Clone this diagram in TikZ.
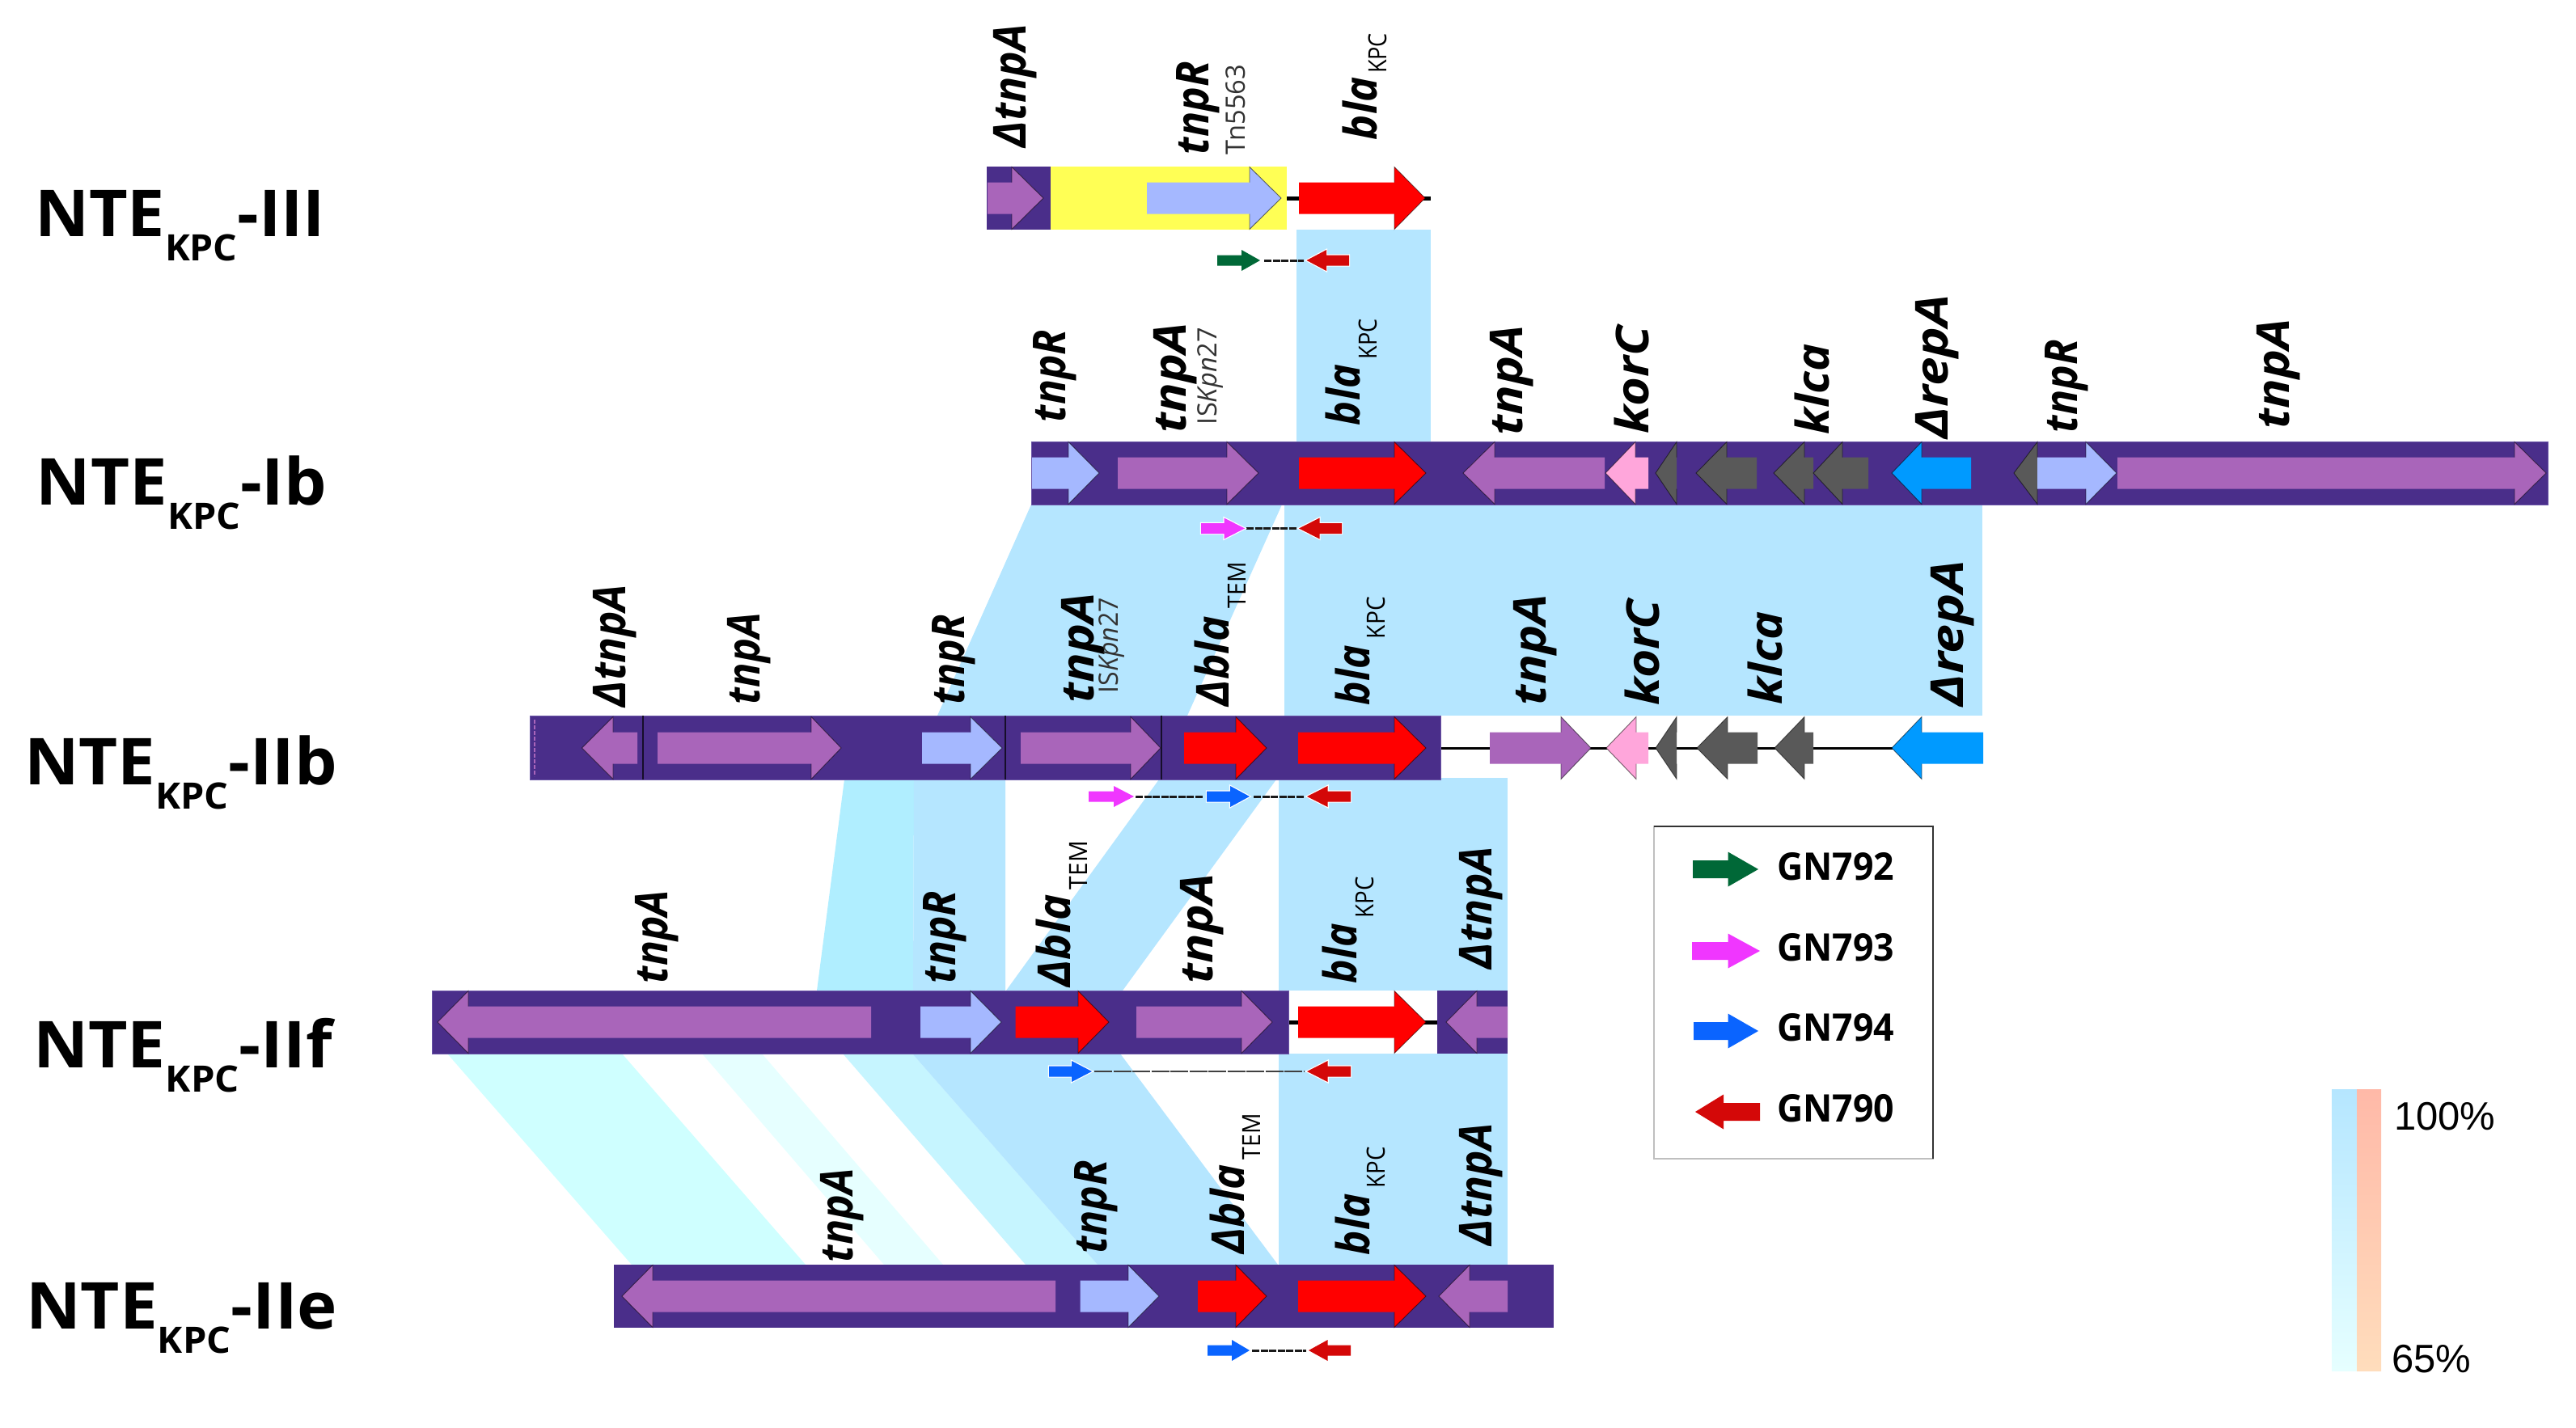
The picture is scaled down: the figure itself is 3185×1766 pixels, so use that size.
\documentclass[tikz,border=0pt]{standalone}
\usepackage{fontspec}
\usepackage{graphicx}
\setmainfont{Open Sans}
\setsansfont{Open Sans}
\newfontfamily\medfont{Open Sans}
\newfontfamily\legfont{Open Sans}
\newfontfamily\arialfont{Liberation Sans}
\definecolor{bb}{HTML}{4A2E8A}
\definecolor{bbedge}{HTML}{6A55A6}
\definecolor{tpa}{HTML}{A965BA}
\definecolor{tpr}{HTML}{A5B8FF}
\definecolor{kpc}{HTML}{FF0000}
\definecolor{kor}{HTML}{FFA6DB}
\definecolor{gry}{HTML}{595959}
\definecolor{rep}{HTML}{009AFF}
\definecolor{yel}{HTML}{FFFF55}
\definecolor{bandA}{HTML}{B5E6FF}
\definecolor{bandB}{HTML}{B0EEFF}
\definecolor{bandC}{HTML}{C6F5FF}
\definecolor{bandD}{HTML}{CFFFFF}
\definecolor{bandE}{HTML}{E6FFFF}
\definecolor{orgA}{HTML}{FFB9A8}
\definecolor{orgB}{HTML}{FFDDBC}
\definecolor{pgreen}{HTML}{006837}
\definecolor{pmag}{HTML}{F036FF}
\definecolor{pblue}{HTML}{0A64FF}
\definecolor{pred}{HTML}{D40808}
\newcounter{lab}
\tikzset{
  geneedge/.style={draw=black,draw opacity=0.55,line width=0.9pt,line join=miter},
  backbone/.style={fill=bb,draw=bbedge,line width=0.8pt},
  txtbase/.style={inner sep=0pt,outer sep=0pt,anchor=base west,text=black},
  vertlab/.style={txtbase,rotate=90},
  primerdash/.style={black!90,line width=3pt,dash pattern=on 9pt off 1.5pt},
  thindash/.style={black!75,line width=2pt,dash pattern=on 22pt off 1.5pt},
  linkline/.style={black,line width=5pt},
  thinline/.style={black,line width=3pt},
  divider/.style={black!70!bb,line width=1.2pt},
}
% x0, head base, tip, y, colour
\newcommand{\gene}[5]{%
  \fill[#5] (#1,#4-19.5)--(#2,#4-19.5)--(#2,#4-38.5)--(#3,#4)--(#2,#4+38.5)--(#2,#4+19.5)--(#1,#4+19.5)--cycle;
  \draw[geneedge] (#2,#4-19.5)--(#2,#4-38.5)--(#3,#4)--(#2,#4+38.5)--(#2,#4+19.5);}
\newcommand{\primer}[5]{%
  \draw[white,line width=2.4pt] (#1,#4-6.5)--(#2,#4-6.5)--(#2,#4-13)--(#3,#4)--(#2,#4+13)--(#2,#4+6.5)--(#1,#4+6.5)--cycle;
  \fill[#5] (#1,#4-6.5)--(#2,#4-6.5)--(#2,#4-13)--(#3,#4)--(#2,#4+13)--(#2,#4+6.5)--(#1,#4+6.5)--cycle;}
\newcommand{\legarrow}[5]{%
  \fill[#5] (#1,#4-11)--(#2,#4-11)--(#2,#4-21.5)--(#3,#4)--(#2,#4+21.5)--(#2,#4+11)--(#1,#4+11)--cycle;}
% baseline x, start y, end y, text
\newcommand{\genelab}[4]{%
  \stepcounter{lab}\pgfmathsetmacro\labw{#2-#3}%
  \node[vertlab] (lab\thelab) at (#1,#2) {\resizebox{\labw pt}{\height}{\fontsize{56}{60}\selectfont\bfseries\itshape #4}};}
\newcommand{\kpclab}[4]{%
  \stepcounter{lab}\pgfmathsetmacro\labw{#2-#3}%
  \node[vertlab] (lab\thelab) at (#1,#2) {\resizebox{\labw pt}{\height}{\fontsize{31}{34}\selectfont\medfont #4}};}
\newcommand{\sublab}[4]{%
  \stepcounter{lab}\pgfmathsetmacro\labw{#2-#3}%
  \node[vertlab,text=black!80] (lab\thelab) at (#1,#2) {\resizebox{\labw pt}{\height}{\fontsize{33}{36}\selectfont #4}};}
% x left, x right, baseline, suffix
\newcommand{\ntelab}[4]{%
  \stepcounter{lab}\pgfmathsetmacro\labw{#2-#1+9}%
  \node[txtbase] (lab\thelab) at (#1-5,#3) {\resizebox{\labw pt}{\height}{\fontsize{80}{84}\selectfont\bfseries NTE\raisebox{-30pt}{\fontsize{45}{48}\selectfont KPC}-#4}};}
\newcommand{\leglab}[3]{%
  \stepcounter{lab}%
  \node[txtbase] (lab\thelab) at (#1,#2) {\resizebox{145pt}{\height}{\fontsize{47}{50}\selectfont\legfont\bfseries #3}};}
\begin{document}
\begin{tikzpicture}[x=1pt,y=-1pt]
\useasboundingbox (0,0) rectangle (3185,1766);
\fill[white] (0,0) rectangle (3185,1766);

% ---- homology bands
\fill[bandA] (1603,284) rectangle (1769,546);
\fill[bandA] (1275,624)--(1585,624)--(1468,885)--(1159,885)--cycle;
\fill[bandA] (1588,624) rectangle (2451,885);
\fill[bandB] (1044,964)--(1130,964)--(1129,1225)--(1010,1225)--cycle;
\fill[bandA] (1130,964)--(1243,964)--(1243,1225)--(1129,1225)--cycle;
\fill[bandA] (1433,964)--(1578,964)--(1388,1225)--(1244,1225)--cycle;
\fill[bandA] (1581,962) rectangle (1864,1225);
\fill[bandD] (553,1303)--(769,1303)--(996,1564)--(781,1564)--cycle;
\fill[bandE] (868,1303)--(942,1303)--(1166,1564)--(1093,1564)--cycle;
\fill[bandC] (1042,1303)--(1128,1303)--(1357,1564)--(1268,1564)--cycle;
\fill[bandA] (1128,1303)--(1385,1303)--(1580,1564)--(1357,1564)--cycle;
\fill[bandA] (1581,1303) rectangle (1864,1564);

% ---- row III
\fill[bb] (1220,206) rectangle (1299,284);
\fill[yel] (1299,206) rectangle (1591,284);
\draw[linkline] (1591,245)--(1606,245);
\draw[linkline] (1760,245)--(1769,245);
\gene{1221}{1251}{1290}{245}{tpa}
\gene{1418}{1545}{1584}{245}{tpr}
\gene{1606}{1724}{1762}{245}{kpc}

% ---- row Ib
\filldraw[backbone] (1275,546) rectangle (3150,624);
\gene{1276}{1321}{1359}{585}{tpr}
\gene{1382}{1517}{1556}{585}{tpa}
\gene{1606}{1724}{1763}{585}{kpc}
\gene{1984}{1848}{1809}{585}{tpa}
\gene{2038}{2022}{1985}{585}{kor}
\gene{2073}{2073}{2047}{585}{gry}
\gene{2172}{2135}{2097}{585}{gry}
\gene{2242}{2231}{2193}{585}{gry}
\gene{2310}{2278}{2242}{585}{gry}
\gene{2437}{2376}{2339}{585}{rep}
\gene{2519}{2519}{2490}{585}{gry}
\gene{2519}{2579}{2617}{585}{tpr}
\gene{2618}{3109}{3148}{585}{tpa}

% ---- row IIb
\draw[thinline] (1781,925)--(2340,925);
\filldraw[backbone] (655,885) rectangle (1781,964);
\draw[tpa,line width=1.2pt,dash pattern=on 5pt off 2pt] (661,890)--(661,960);
\draw[divider] (795,885)--(795,964);
\draw[divider] (1243,885)--(1243,964);
\draw[divider] (1436,885)--(1436,964);
\gene{788}{758}{719.5}{925}{tpa}
\gene{813}{1003}{1040}{925}{tpa}
\gene{1140}{1200}{1239}{925}{tpr}
\gene{1262}{1398}{1435}{925}{tpa}
\gene{1464}{1528}{1566}{925}{kpc}
\gene{1605}{1724}{1763}{925}{kpc}
\gene{1842}{1930}{1967}{925}{tpa}
\gene{2038}{2023}{1986}{925}{kor}
\gene{2073}{2073}{2047}{925}{gry}
\gene{2173}{2136}{2098}{925}{gry}
\gene{2242}{2231}{2194}{925}{gry}
\gene{2452}{2376}{2339}{925}{rep}

% ---- row IIf
\draw[linkline] (1593,1264)--(1606,1264);
\draw[linkline] (1760,1264)--(1777,1264);
\filldraw[backbone] (534,1225) rectangle (1593,1303);
\fill[bb] (1777,1225) rectangle (1864,1303);
\gene{1077}{579}{541}{1264}{tpa}
\gene{1138}{1200}{1238}{1264}{tpr}
\gene{1255.5}{1333}{1371}{1264}{kpc}
\gene{1405}{1535}{1573}{1264}{tpa}
\gene{1605}{1724}{1763}{1264}{kpc}
\gene{1864}{1826}{1788}{1264}{tpa}

% ---- row IIe
\fill[bb] (759,1564) rectangle (1921,1642);
\gene{1305}{807}{769}{1603}{tpa}
\gene{1335.5}{1395}{1433}{1603}{tpr}
\gene{1481}{1528}{1566}{1603}{kpc}
\gene{1605}{1724}{1763}{1603}{kpc}
\gene{1864}{1817}{1779}{1603}{tpa}

% ---- primers
\coordinate (p3a) at (1563,322); \coordinate (p3b) at (1612,322);
\draw[primerdash] (p3a)--(p3b);
\primer{1505}{1535}{1558}{322}{pgreen}
\primer{1668}{1640}{1615.5}{322}{pred}
\coordinate (p1a) at (1541,653.5); \coordinate (p1b) at (1603,653.5);
\draw[primerdash] (p1a)--(p1b);
\primer{1485}{1513.5}{1539}{653.5}{pmag}
\primer{1659}{1631.5}{1606}{653.5}{pred}
\coordinate (p2a) at (1404,985); \coordinate (p2b) at (1487,985);
\coordinate (p2c) at (1550,985); \coordinate (p2d) at (1612,985);
\draw[primerdash] (p2a)--(p2b);
\draw[primerdash] (p2c)--(p2d);
\primer{1346}{1377}{1402}{985}{pmag}
\primer{1492}{1521}{1545}{985}{pblue}
\primer{1670}{1641.6}{1616}{985}{pred}
\coordinate (p4a) at (1353,1325); \coordinate (p4b) at (1612,1325);
\draw[thindash] (p4a)--(p4b);
\primer{1297}{1325}{1350}{1325}{pblue}
\primer{1670}{1641.6}{1616}{1325}{pred}
\coordinate (p5a) at (1548,1670); \coordinate (p5b) at (1615,1670);
\draw[primerdash] (p5a)--(p5b);
\primer{1493}{1523}{1545}{1670}{pblue}
\primer{1670}{1641.6}{1618}{1670}{pred}

% ---- gene labels row III
\genelab{1268}{182}{30}{ΔtnpA}
\genelab{1494}{191}{76}{tnpR}
\sublab{1539}{191}{80}{Tn5563}
\genelab{1702}{173}{95}{bla}
\kpclab{1714}{91}{41}{KPC}
% row Ib
\genelab{1317}{522}{408}{tnpR}
\genelab{1466}{535}{399}{tnpA}
\sublab{1504}{525}{405}{IS{\itshape Kpn}27}
\genelab{1681}{526}{451}{bla}
\kpclab{1702}{444}{394}{KPC}
\genelab{1882}{538}{402}{tnpA}
\genelab{2038}{536}{403}{korC}
\genelab{2261}{537}{425}{klca}
\genelab{2408}{542}{364}{ΔrepA}
\genelab{2568}{535}{420}{tnpR}
\genelab{2830}{530}{394}{tnpA}
% row IIb
\genelab{773}{874}{723}{ΔtnpA}
\genelab{939}{871}{758}{tnpA}
\genelab{1192}{871}{760}{tnpR}
\genelab{1352}{869}{733}{tnpA}
\sublab{1382}{857}{739}{IS{\itshape Kpn}27}
\genelab{1519}{873}{762}{Δbla}
\kpclab{1540}{752}{695}{TEM}
\genelab{1693}{872}{798}{bla}
\kpclab{1712}{790}{738}{KPC}
\genelab{1911}{872}{735}{tnpA}
\genelab{2051}{872}{741}{korC}
\genelab{2203}{871}{756}{klca}
\genelab{2427}{873}{693}{ΔrepA}
% row IIf
\genelab{825}{1216}{1101}{tnpA}
\genelab{1181}{1216}{1102}{tnpR}
\genelab{1323}{1220}{1106}{Δbla}
\kpclab{1344}{1100}{1040}{TEM}
\genelab{1499}{1216}{1081}{tnpA}
\genelab{1677}{1216}{1142}{bla}
\kpclab{1698}{1135}{1084}{KPC}
\genelab{1844}{1198}{1047}{ΔtnpA}
% row IIe
\genelab{1054}{1561}{1445}{tnpA}
\genelab{1368}{1550}{1435}{tnpR}
\genelab{1538}{1550}{1440}{Δbla}
\kpclab{1558}{1434}{1377}{TEM}
\genelab{1693}{1552}{1476}{bla}
\kpclab{1712}{1469}{1418}{KPC}
\genelab{1844}{1540}{1389}{ΔtnpA}

% ---- row names
\ntelab{48}{398}{292}{III}
\ntelab{50}{400}{624}{Ib}
\ntelab{35}{413}{970}{IIb}
\ntelab{46}{407}{1320}{IIf}
\ntelab{37}{413}{1643}{IIe}

% ---- legend
\draw[black!25,line width=1.4pt] (2045,1022) rectangle (2390,1433);
\draw[black!80,line width=1.4pt] (2045,1022)--(2390,1022)--(2390,1433);
\legarrow{2093}{2136.5}{2174}{1075}{pgreen}
\legarrow{2092}{2136.5}{2176}{1176}{pmag}
\legarrow{2094}{2136.5}{2174}{1275}{pblue}
\legarrow{2176}{2131}{2096}{1375}{pred}
\leglab{2197}{1088}{GN792}
\leglab{2197}{1188}{GN793}
\leglab{2197}{1287}{GN794}
\leglab{2197}{1387}{GN790}

% ---- identity scale
\shade[top color=bandA,bottom color=bandE] (2883,1347) rectangle (2914,1695);
\shade[top color=orgA,bottom color=orgB] (2914,1347) rectangle (2944,1695);
\node[txtbase,font=\arialfont\fontsize{49}{52}\selectfont] (scalehi) at (2960,1397) {100\%};
\node[txtbase,font=\arialfont\fontsize{49}{52}\selectfont] (scalelo) at (2957,1697) {65\%};
\end{tikzpicture}
\end{document}
